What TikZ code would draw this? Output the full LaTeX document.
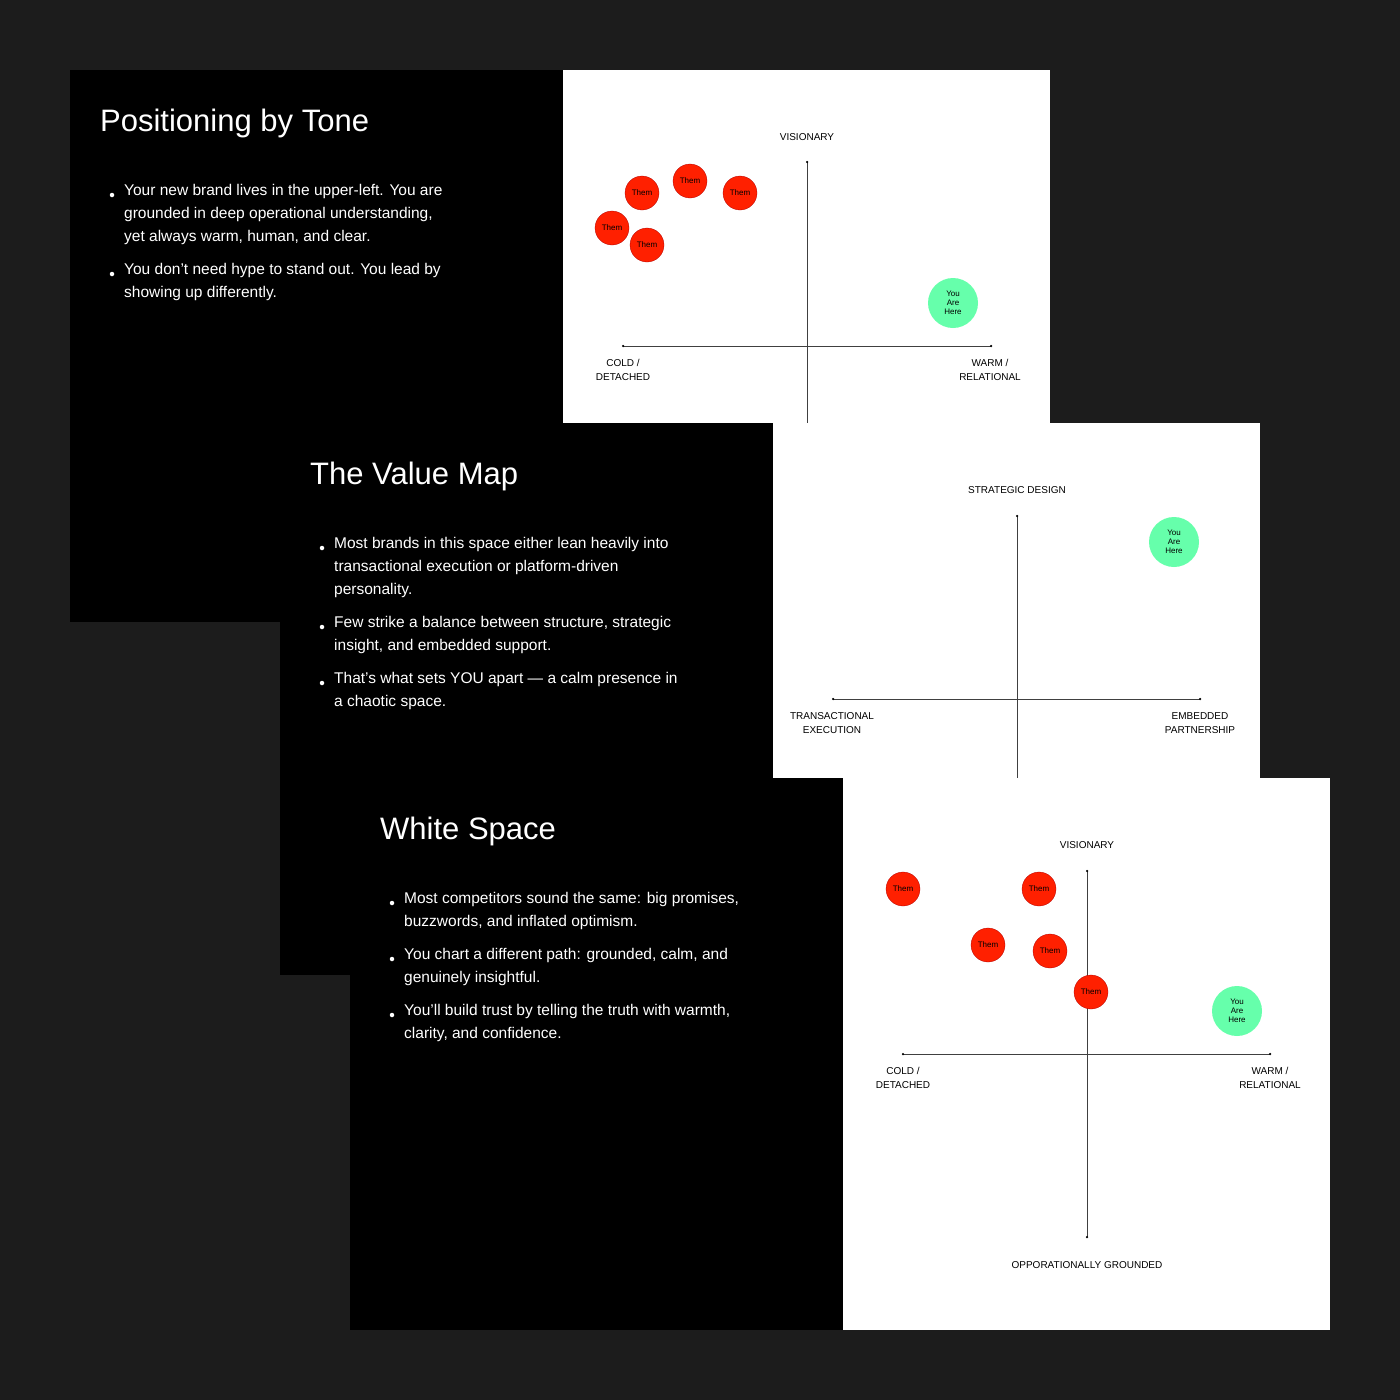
\documentclass[tikz,border=0pt]{standalone}
\usepackage{fontspec}
\setmainfont{Liberation Sans}
\begin{document}
\begin{tikzpicture}[x=1pt,y=-1pt,
  title/.style={anchor=west,text=white,font=\fontsize{31}{36}\selectfont,inner sep=0},
  body/.style={anchor=north west,text=white,align=left,font=\fontsize{15.5}{23}\selectfont,inner sep=0},
  bul/.style={circle,fill=white,inner sep=0,minimum size=4.5pt},
  lab/.style={align=center,font=\fontsize{10}{14}\selectfont,inner sep=0},
  them/.style={circle,fill=red!75!orange,draw=red!70!black,line width=0.3pt,minimum size=34pt,inner sep=0,font=\fontsize{8}{9}\selectfont},
  you/.style={circle,fill=green!55!cyan!60!white,minimum size=50pt,inner sep=0,align=center,font=\fontsize{8}{9}\selectfont},
  ax/.style={line width=0.6pt,draw=black!75},
  dot/.style={circle,fill=black,inner sep=0,minimum size=2.5pt}]
\fill[fill={rgb,255:red,28;green,28;blue,28}] (0,0) rectangle (1400,1400);
% slide 1
\fill[black] (70,70) rectangle (563,622);
\fill[white] (563,70) rectangle (1050,423);
\node[title] (t1) at (100,123) {Positioning by Tone};
\node[bul] (b11) at (112,195) {};
\node[body] (x11) at (124,184) {Your new brand lives in the upper-left. You are\\grounded in deep operational understanding,\\yet always warm, human, and clear.};
\node[bul] (b12) at (112,274) {};
\node[body] (x12) at (124,263) {You don’t need hype to stand out. You lead by\\showing up differently.};
\coordinate (v1t) at (807,162); \coordinate (v1b) at (807,423);
\coordinate (h1l) at (623,346); \coordinate (h1r) at (991,346);
\draw[ax] (v1t) -- (v1b); \draw[ax] (h1l) -- (h1r);
\node[dot] at (v1t) {}; \node[dot] at (h1l) {}; \node[dot] at (h1r) {};
\node[lab] (l11) at (807,137) {VISIONARY};
\node[lab] (l12) at (623,370) {COLD /\\DETACHED};
\node[lab] (l13) at (990,370) {WARM /\\RELATIONAL};
\node[them] (a1) at (642,193) {Them};
\node[them] (a2) at (690,181) {Them};
\node[them] (a3) at (740,193) {Them};
\node[them] (a4) at (612,228) {Them};
\node[them] (a5) at (647,245) {Them};
\node[you] (y1) at (953,303) {You\\Are\\Here};
% slide 2
\fill[black] (280,423) rectangle (773,975);
\fill[white] (773,423) rectangle (1260,778);
\node[title] (t2) at (310,476) {The Value Map};
\node[bul] (b21) at (322,548) {};
\node[body] (x21) at (334,537) {Most brands in this space either lean heavily into\\transactional execution or platform-driven\\personality.};
\node[bul] (b22) at (322,627) {};
\node[body] (x22) at (334,616) {Few strike a balance between structure, strategic\\insight, and embedded support.};
\node[bul] (b23) at (322,683) {};
\node[body] (x23) at (334,672) {That’s what sets YOU apart — a calm presence in\\a chaotic space.};
\coordinate (v2t) at (1017,516); \coordinate (v2b) at (1017,778);
\coordinate (h2l) at (833,699); \coordinate (h2r) at (1200,699);
\draw[ax] (v2t) -- (v2b); \draw[ax] (h2l) -- (h2r);
\node[dot] at (v2t) {}; \node[dot] at (h2l) {}; \node[dot] at (h2r) {};
\node[lab] (l21) at (1017,490) {STRATEGIC DESIGN};
\node[lab] (l22) at (832,723) {TRANSACTIONAL\\EXECUTION};
\node[lab] (l23) at (1200,723) {EMBEDDED\\PARTNERSHIP};
\node[you] (y2) at (1174,542) {You\\Are\\Here};
% slide 3
\fill[black] (350,778) rectangle (843,1330);
\fill[white] (843,778) rectangle (1330,1330);
\node[title] (t3) at (380,831) {White Space};
\node[bul] (b31) at (392,903) {};
\node[body] (x31) at (404,892) {Most competitors sound the same: big promises,\\buzzwords, and inflated optimism.};
\node[bul] (b32) at (392,959) {};
\node[body] (x32) at (404,948) {You chart a different path: grounded, calm, and\\genuinely insightful.};
\node[bul] (b33) at (392,1015) {};
\node[body] (x33) at (404,1004) {You’ll build trust by telling the truth with warmth,\\clarity, and confidence.};
\coordinate (v3t) at (1087,871); \coordinate (v3b) at (1087,1237);
\coordinate (h3l) at (903,1054); \coordinate (h3r) at (1270,1054);
\draw[ax] (v3t) -- (v3b); \draw[ax] (h3l) -- (h3r);
\node[dot] at (v3t) {}; \node[dot] at (v3b) {}; \node[dot] at (h3l) {}; \node[dot] at (h3r) {};
\node[lab] (l31) at (1087,845) {VISIONARY};
\node[lab] (l32) at (903,1078) {COLD /\\DETACHED};
\node[lab] (l33) at (1270,1078) {WARM /\\RELATIONAL};
\node[lab] (l34) at (1087,1265) {OPPORATIONALLY GROUNDED};
\node[them] (c1) at (903,889) {Them};
\node[them] (c2) at (1039,889) {Them};
\node[them] (c3) at (988,945) {Them};
\node[them] (c4) at (1050,951) {Them};
\node[them] (c5) at (1091,992) {Them};
\node[you] (y3) at (1237,1011) {You\\Are\\Here};
\end{tikzpicture}
\end{document}
